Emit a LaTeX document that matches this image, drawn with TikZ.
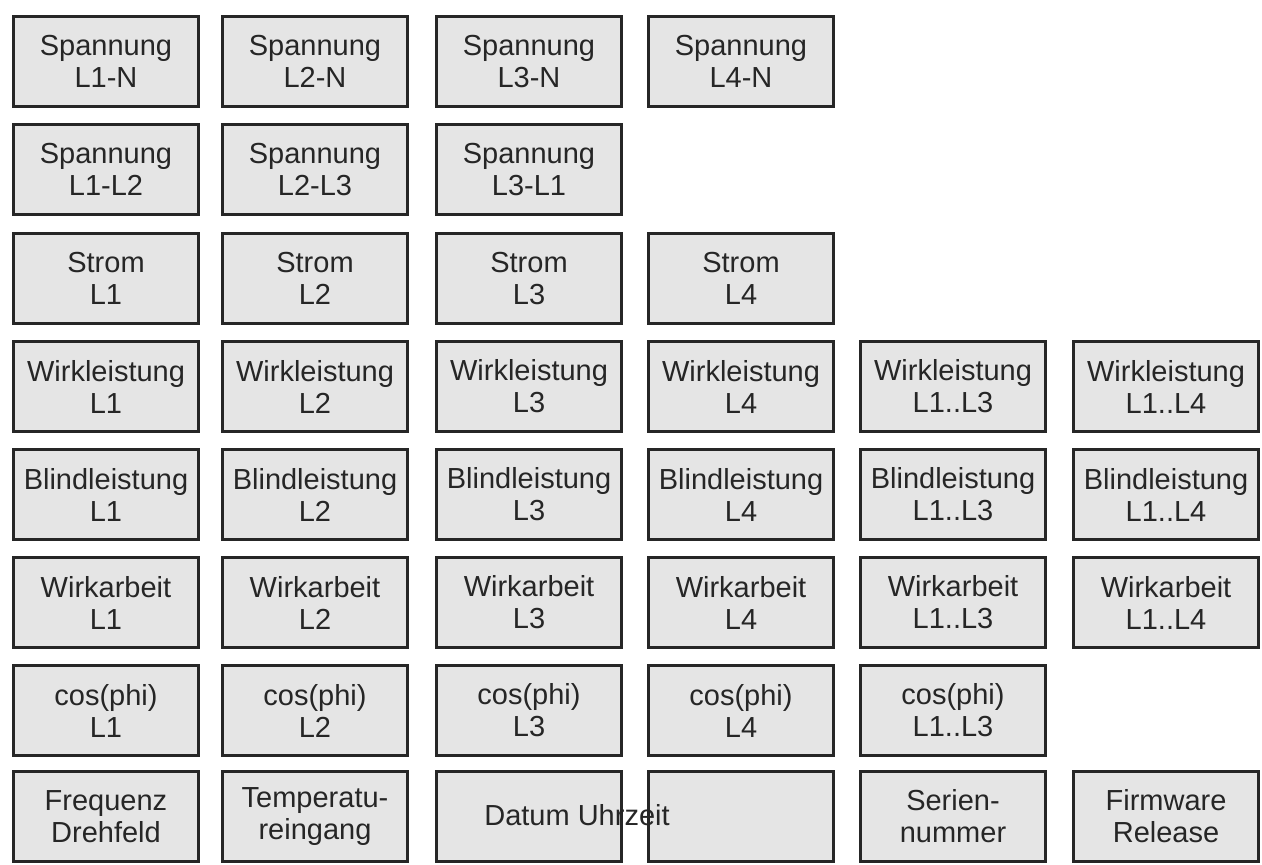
\documentclass[tikz,border=0pt]{standalone}
\usepackage{fontspec}
\setmainfont{Liberation Sans}
\begin{document}
\begin{tikzpicture}[x=0.5pt,y=-0.5pt,
  box/.style={draw=black!85,line width=1.5pt,fill=black!10,minimum width=92.5pt,minimum height=45pt,anchor=north west,inner sep=0pt,align=center,text=black!85,font=\fontsize{14.5}{16}\selectfont}]
\useasboundingbox (0,0) rectangle (1262,865);
\def\cx#1{\ifcase#1 12\or 221\or 435\or 647\or 859\or 1072\fi}
\def\ry#1{\ifcase#1 15\or 123\or 232\or 340\or 448\or 556\or 664\or 770\fi}
\foreach \r/\c/\t [count=\i] in {
 0/0/{Spannung\\L1-N},0/1/{Spannung\\L2-N},0/2/{Spannung\\L3-N},0/3/{Spannung\\L4-N},
 1/0/{Spannung\\L1-L2},1/1/{Spannung\\L2-L3},1/2/{Spannung\\L3-L1},
 2/0/{Strom\\L1},2/1/{Strom\\L2},2/2/{Strom\\L3},2/3/{Strom\\L4},
 3/0/{Wirkleistung\\L1},3/1/{Wirkleistung\\L2},3/2/{Wirkleistung\\L3},3/3/{Wirkleistung\\L4},3/4/{Wirkleistung\\L1..L3},3/5/{Wirkleistung\\L1..L4},
 4/0/{Blindleistung\\L1},4/1/{Blindleistung\\L2},4/2/{Blindleistung\\L3},4/3/{Blindleistung\\L4},4/4/{Blindleistung\\L1..L3},4/5/{Blindleistung\\L1..L4},
 5/0/{Wirkarbeit\\L1},5/1/{Wirkarbeit\\L2},5/2/{Wirkarbeit\\L3},5/3/{Wirkarbeit\\L4},5/4/{Wirkarbeit\\L1..L3},5/5/{Wirkarbeit\\L1..L4},
 6/0/{cos(phi)\\L1},6/1/{cos(phi)\\L2},6/2/{cos(phi)\\L3},6/3/{cos(phi)\\L4},6/4/{cos(phi)\\L1..L3},
 7/0/{Frequenz\\Drehfeld},7/1/{Temperatu-\\reingang},7/2/{},7/3/{},7/4/{Serien-\\nummer},7/5/{Firmware\\Release}}
 \node[box] (b\i) at (\cx{\c},\ry{\r}) {\t};
\node[font=\fontsize{14.5}{16}\selectfont,text=black!85,inner sep=0pt] (dt) at (577,815) {Datum Uhrzeit};
\end{tikzpicture}
\end{document}
